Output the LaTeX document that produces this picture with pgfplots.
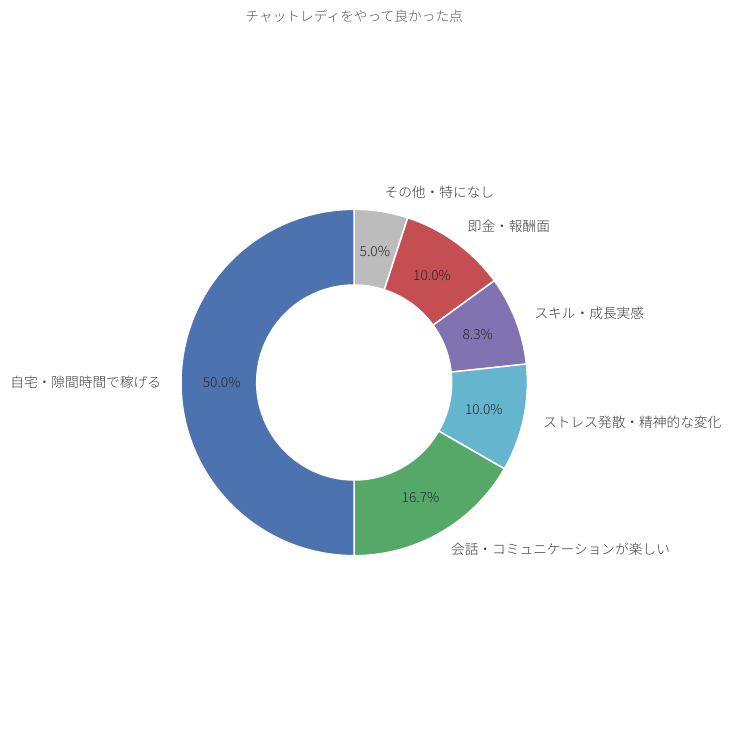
\documentclass[border=0pt]{standalone}
\usepackage{pgfplots}
\pgfplotsset{compat=1.18}
\usepackage{pgfplotstable}
\usepackage{fontspec}
\IfFontExistsTF{Noto Sans CJK JP Light}{\setmainfont{Noto Sans CJK JP Light}}{\setmainfont{Noto Sans CJK JP}}
\definecolor{cBlue}{HTML}{4C72B0}
\definecolor{cGreen}{HTML}{55A868}
\definecolor{cRed}{HTML}{C44E52}
\definecolor{cPurple}{HTML}{8172B2}
\definecolor{cCyan}{HTML}{64B5CD}
\definecolor{cGray}{HTML}{BCBCBC}
\definecolor{titlegray}{HTML}{555555}
\definecolor{lblgray}{HTML}{3A3A3A}
\definecolor{pctgray}{HTML}{262626}
\newcommand\lblfont{\fontsize{13.7pt}{16pt}\selectfont}

\pgfplotstableread[col sep=comma]{
label,value,color
その他・特になし,5.0,cGray
即金・報酬面,10.0,cRed
スキル・成長実感,8.3,cPurple
ストレス発散・精神的な変化,10.0,cCyan
会話・コミュニケーションが楽しい,16.7,cGreen
自宅・隙間時間で稼げる,50.0,cBlue
}\piedata

\def\cum{0}%
\pgfplotsforeachungrouped \i in {0,...,5}{%
  \pgfplotstablegetelem{\i}{value}\of\piedata
  \let\v\pgfplotsretval
  \pgfmathsetmacro\a{90-3.6*\cum}%
  \pgfmathsetmacro\cum{\cum+\v}%
  \pgfmathsetmacro\b{90-3.6*\cum}%
  \pgfmathsetmacro\m{(\a+\b)/2}%
  \pgfmathtruncatemacro\side{cos(\m)>0}%
  \expandafter\xdef\csname pieA\i\endcsname{\a}%
  \expandafter\xdef\csname pieB\i\endcsname{\b}%
  \expandafter\xdef\csname pieM\i\endcsname{\m}%
  \expandafter\xdef\csname pieV\i\endcsname{\v}%
  \ifnum\side=1
    \expandafter\xdef\csname pieN\i\endcsname{west}%
  \else
    \expandafter\xdef\csname pieN\i\endcsname{east}%
  \fi
  \pgfplotstablegetelem{\i}{label}\of\piedata
  \global\expandafter\let\csname pieL\i\endcsname\pgfplotsretval
  \pgfplotstablegetelem{\i}{color}\of\piedata
  \global\expandafter\let\csname pieC\i\endcsname\pgfplotsretval
}

\begin{document}
\begin{tikzpicture}
\begin{axis}[
  hide axis,
  x=1pt, y=1pt,
  xmin=-354.2, xmax=377.8,
  ymin=-346.5, ymax=382.5,
  clip=false,
]
\path (axis cs:-354.2,-346.5) rectangle (axis cs:377.8,382.5);
\pgfplotsinvokeforeach{0,...,5}{%
  \edef\temp{\noexpand\fill[\csname pieC#1\endcsname, draw=white, line width=1.5pt]
    ([shift={(\csname pieA#1\endcsname:173.2pt)}]axis cs:0,0)
    arc[start angle=\csname pieA#1\endcsname, end angle=\csname pieB#1\endcsname, radius=173.2pt]
    -- ([shift={(\csname pieB#1\endcsname:97.5pt)}]axis cs:0,0)
    arc[start angle=\csname pieB#1\endcsname, end angle=\csname pieA#1\endcsname, radius=97.5pt]
    -- cycle;}%
  \temp
}
\pgfplotsinvokeforeach{0,...,5}{%
  \edef\temp{\noexpand\node[anchor=\csname pieN#1\endcsname, text=lblgray, font=\noexpand\lblfont, inner sep=0pt]
    at ([shift={(\csname pieM#1\endcsname:193pt)}]axis cs:0,0) {\csname pieL#1\endcsname};
    \noexpand\node[anchor=center, text=pctgray, font=\noexpand\lblfont, inner sep=0pt]
    at ([shift={(\csname pieM#1\endcsname:132.5pt)}]axis cs:0,0)
    {\noexpand\pgfmathprintnumber[fixed,fixed zerofill,precision=1,assume math mode=true]{\csname pieV#1\endcsname}\noexpand\%};}%
  \temp
}
\node[anchor=center, text=titlegray, font=\lblfont, inner sep=0pt] at (axis cs:0,366.5) {チャットレディをやって良かった点};
\end{axis}
\end{tikzpicture}
\end{document}
